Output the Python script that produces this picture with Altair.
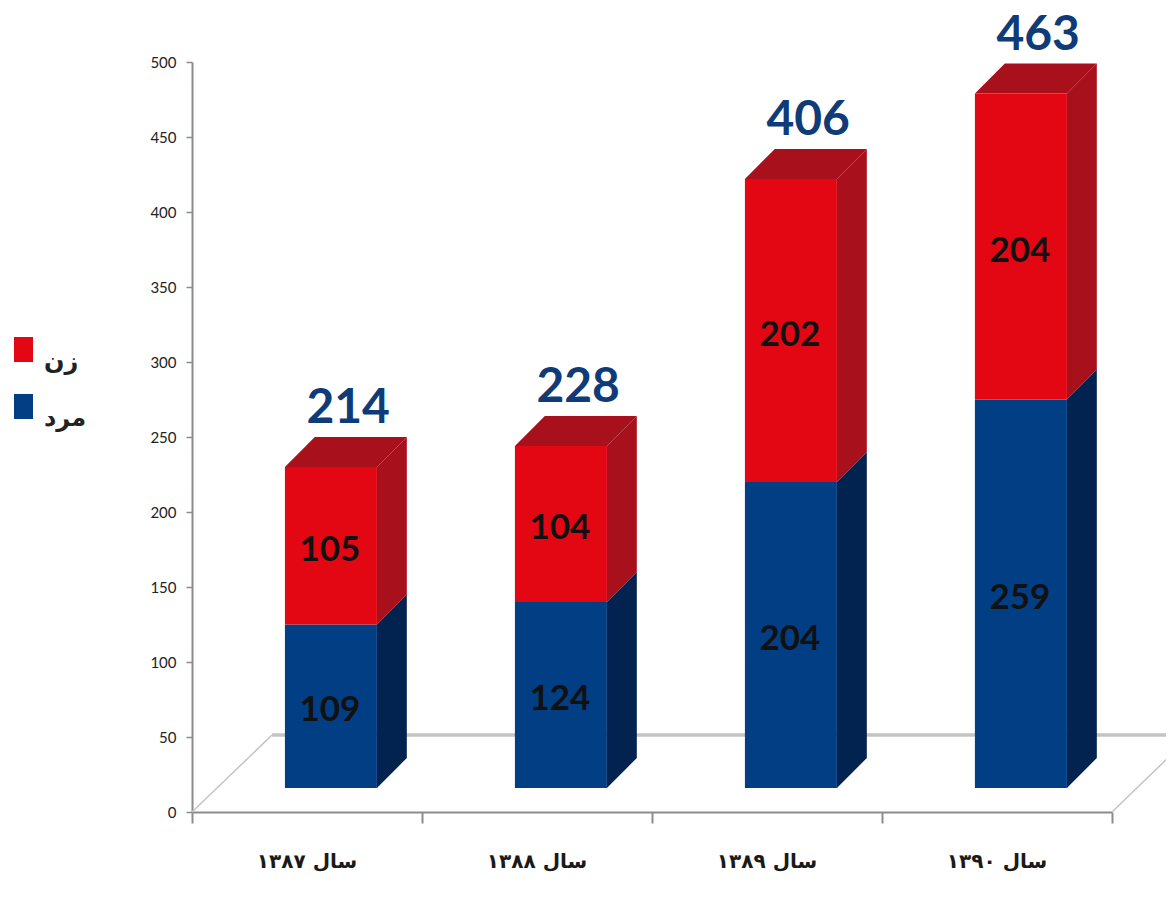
import altair as alt
import pandas as pd

years = ["سال ۱۳۸۷", "سال ۱۳۸۸", "سال ۱۳۸۹", "سال ۱۳۹۰"]
men = [109, 124, 204, 259]
women = [105, 104, 202, 204]
totals = [214, 228, 406, 463]
series_names = ["زن", "مرد"]
y_ticks = list(range(0, 501, 50))

# depth of the fake 3-D projection, in data units
BASE = 16
DX = 0.13
DY = 20
LEFT = 0.404
WIDTH = 0.4

RED, RED_DARK = "#e30613", "#a8101c"
BLUE, BLUE_DARK = "#023e84", "#02224f"
FLOOR = "#c4c4c4"
AXIS = "#8c8c8c"

front, sides, tops, seg_labels, total_labels, cat_labels = [], [], [], [], [], []
for i, yr in enumerate(years):
    l = i + LEFT
    r = l + WIDTH
    m_top = BASE + men[i]
    w_top = m_top + women[i]
    front.append(dict(x=l, x2=r, y=BASE, y2=m_top, s=series_names[1]))
    front.append(dict(x=l, x2=r, y=m_top, y2=w_top, s=series_names[0]))
    for key, lo, hi, col in [("m", BASE, m_top, BLUE_DARK), ("w", m_top, w_top, RED_DARK)]:
        sides.append(dict(k=f"{key}{i}", x=r, y=lo, y2=hi, c=col))
        sides.append(dict(k=f"{key}{i}", x=r + DX, y=lo + DY, y2=hi + DY, c=col))
    tops.append(dict(k=i, y=w_top, x=l, x2=r))
    tops.append(dict(k=i, y=w_top + DY, x=l + DX, x2=r + DX))
    seg_labels.append(dict(x=(l + r) / 2, y=(BASE + m_top) / 2, t=str(men[i])))
    seg_labels.append(dict(x=(l + r) / 2, y=(m_top + w_top) / 2, t=str(women[i])))
    total_labels.append(dict(x=(l + r) / 2 + 0.075, y=w_top + DY + 18.5, t=str(totals[i])))
    cat_labels.append(dict(x=i + 0.5, y=-33.5, t=yr))

x_enc = alt.X("x:Q", scale=alt.Scale(domain=[0, 4], nice=False, zero=False),
              axis=alt.Axis(values=[0, 1, 2, 3, 4], labels=False, title=None, grid=False,
                            tickSize=11, tickColor=AXIS, tickWidth=2, domainColor=AXIS, domainWidth=2))
y_enc = alt.Y("y:Q", scale=alt.Scale(domain=[0, 500], nice=False),
              axis=alt.Axis(values=y_ticks, title=None, grid=False, tickSize=6, tickColor=AXIS,
                            tickWidth=1.5, domainColor=AXIS, domainWidth=2, labelPadding=10,
                            labelFont="Lato", labelFontSize=15, labelFontWeight="normal",
                            labelColor="#222222"))

floor_back = pd.DataFrame([dict(k="b", x=0.348, y=51.3), dict(k="b", x=4.27, y=51.3)])
floor_diag = pd.DataFrame([dict(k="l", x=0, y=0), dict(k="l", x=0.348, y=51.3),
                           dict(k="r", x=4, y=0), dict(k="r", x=4.27, y=40)])

back = alt.Chart(floor_back).mark_line(color=FLOOR, strokeWidth=3.5).encode(x=x_enc, y=y_enc, detail="k:N")
diag = alt.Chart(floor_diag).mark_line(color=FLOOR, strokeWidth=1.5).encode(x=x_enc, y=y_enc, detail="k:N")

bars = alt.Chart(pd.DataFrame(front)).mark_rect().encode(
    x=x_enc, x2="x2:Q", y=y_enc, y2="y2:Q",
    color=alt.Color("s:N", scale=alt.Scale(domain=series_names, range=[RED, BLUE]),
                    legend=alt.Legend(title=None, orient="none", legendX=-181, legendY=275,
                                      symbolType="M-0.76,-1H0.76V1H-0.76Z", symbolSize=625,
                                      symbolStrokeWidth=0, labelFont="DejaVu Sans", labelFontSize=24,
                                      labelFontWeight="bold", labelBaseline="top",
                                      labelColor="#222222", labelOffset=8, rowPadding=20, padding=0)),
)
side = alt.Chart(pd.DataFrame(sides)).mark_area().encode(
    x=x_enc, y=y_enc, y2="y2:Q", detail="k:N", color=alt.Color("c:N", scale=None))
top = alt.Chart(pd.DataFrame(tops)).mark_area(orient="horizontal", color=RED_DARK).encode(
    y=y_enc, x=x_enc, x2="x2:Q", detail="k:N")

seg = alt.Chart(pd.DataFrame(seg_labels)).mark_text(
    font="Lato", fontSize=35, fontWeight="bold", color="#111111", baseline="middle", dy=4, dx=-1
).encode(x=x_enc, y=y_enc, text="t:N")
tot = alt.Chart(pd.DataFrame(total_labels)).mark_text(
    font="Lato", fontSize=48, fontWeight="bold", color="#0f3c78", baseline="middle"
).encode(x=x_enc, y=y_enc, text="t:N")
cat = alt.Chart(pd.DataFrame(cat_labels)).mark_text(
    font="DejaVu Sans", fontSize=20, fontWeight="bold", color="#1a1a1a", baseline="middle"
).encode(x=x_enc, y=y_enc, text="t:N")

chart = alt.layer(back, diag, side, top, bars, seg, tot, cat).properties(
    width=920, height=750,
    padding={"left": 184, "top": 54, "right": 54, "bottom": 100},
    autosize=alt.AutoSizeParams(type="none"),
    background="white",
).configure_view(stroke=None)

chart.save("out.html", embed_options={"renderer": "svg", "actions": False})
